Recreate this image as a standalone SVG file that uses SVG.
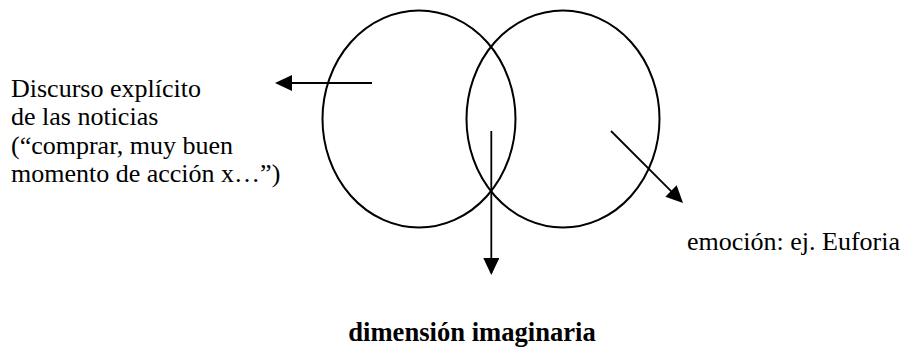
<svg xmlns="http://www.w3.org/2000/svg" width="906" height="349" viewBox="0 0 906 349">
<style>
  .txt { font-family: "Liberation Serif", "Times New Roman", serif; font-size: 26px; fill: #000; }
  .bold { font-weight: bold; font-size: 26.6px; }
  .circ { fill: none; stroke: #000; stroke-width: 2; }
  .arr { fill: none; stroke: #000; stroke-width: 1.8; marker-end: url(#head); }
</style>
<defs>
  <marker id="head" viewBox="0 0 17 16" refX="15" refY="8" markerWidth="17" markerHeight="16" markerUnits="userSpaceOnUse" orient="auto">
    <path d="M0,0 L17,8 L0,16 z" fill="#000"/>
  </marker>
</defs>
<rect width="906" height="349" fill="#fff"/>
<g id="circle-left"><ellipse class="circ" cx="419" cy="119" rx="96.5" ry="108.5"/></g>
<g id="circle-right"><ellipse class="circ" cx="563" cy="119" rx="96.5" ry="108.5"/></g>
<g id="label-discurso">
  <text class="txt" x="11" y="96.5">Discurso explícito</text>
  <text class="txt" x="11" y="125">de las noticias</text>
  <text class="txt" x="11" y="153.5">(“comprar, muy buen</text>
  <text class="txt" x="11" y="182">momento de acción x…”)</text>
</g>
<g id="label-emocion"><text class="txt" x="687" y="250">emoción: ej. Euforia</text></g>
<g id="label-dimension"><text class="txt bold" x="472" y="341" text-anchor="middle">dimensión imaginaria</text></g>
<g id="connectors">
  <line class="arr" x1="372" y1="83" x2="277" y2="83"/>
  <line class="arr" x1="491.3" y1="131" x2="491.3" y2="273"/>
  <line class="arr" x1="611" y1="131" x2="681.6" y2="201.6"/>
</g>
</svg>
